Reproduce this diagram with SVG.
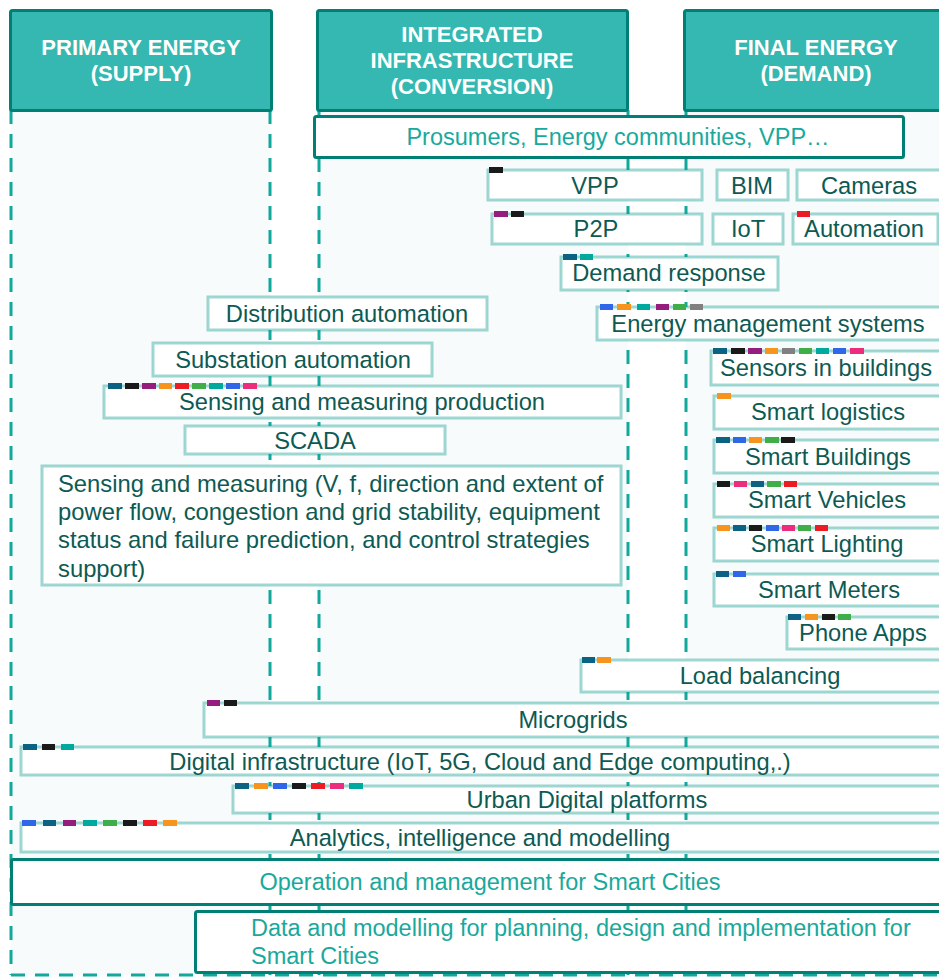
<svg xmlns="http://www.w3.org/2000/svg" width="939" height="978" viewBox="0 0 939 978">
<style>
text{font-family:"Liberation Sans",Arial,sans-serif}
.col{fill:#f7fbfb;stroke:none}
.dash{stroke:#13a89e;stroke-width:3;stroke-dasharray:14 10;fill:none}
.hdr{fill:#35b8b1;stroke:#007f74;stroke-width:3}
.ht{fill:#fff;font-weight:bold;font-size:22px;text-anchor:middle}
.big{fill:#fff;stroke:#007f74;stroke-width:3}
.bt{fill:#19a99c;font-size:23.5px}
.n{fill:#fff;stroke:#0f9d90;stroke-opacity:0.4;stroke-width:3}
.t{fill:#0d5a53;font-size:23.7px;text-anchor:middle}
.tl{fill:#0d5a53;font-size:23.8px}
.k{stroke:none}
.db{fill:#0b6283}.bk{fill:#1a1a1a}.pu{fill:#951d7e}.or{fill:#f7941d}.rd{fill:#ed1c24}
.gr{fill:#3fae49}.te{fill:#00a99d}.bl{fill:#2f67e8}.pk{fill:#ec2c7c}.gy{fill:#808080}
</style>
<g id="columns">
<rect class="col" x="11" y="110" width="259" height="865"/>
<rect class="col" x="319" y="110" width="309" height="865"/>
<rect class="col" x="686" y="110" width="260" height="865"/>
<line class="dash" x1="11" y1="110" x2="11" y2="975"/>
<line class="dash" x1="270" y1="110" x2="270" y2="975"/>
<line class="dash" x1="319" y1="110" x2="319" y2="975"/>
<line class="dash" x1="628" y1="110" x2="628" y2="975"/>
<line class="dash" x1="686" y1="110" x2="686" y2="975"/>
<line class="dash" x1="11" y1="975" x2="939" y2="975"/>
</g>
<g id="header-primary">
<rect class="hdr" x="10.5" y="10.5" width="261" height="100" rx="2"/>
<text class="ht" x="141" y="55">PRIMARY ENERGY</text>
<text class="ht" x="141" y="81">(SUPPLY)</text>
</g>
<g id="header-integrated">
<rect class="hdr" x="317.5" y="10.5" width="310" height="100" rx="2"/>
<text class="ht" x="472" y="42">INTEGRATED</text>
<text class="ht" x="472" y="68">INFRASTRUCTURE</text>
<text class="ht" x="472" y="94">(CONVERSION)</text>
</g>
<g id="header-final">
<rect class="hdr" x="684.5" y="10.5" width="270" height="100" rx="2"/>
<text class="ht" x="816" y="55">FINAL ENERGY</text>
<text class="ht" x="816" y="81">(DEMAND)</text>
</g>
<g id="prosumers">
<rect class="big" x="314.5" y="116.5" width="589" height="41" rx="2"/>
<text class="bt" x="618" y="145" text-anchor="middle">Prosumers, Energy communities, VPP…</text>
</g>
<g id="vpp">
<rect class="n" x="488" y="170" width="214" height="30"/>
<rect class="k bk" x="489" y="167" width="14" height="6"/>
<text class="t" x="595" y="194">VPP</text>
</g>
<g id="bim">
<rect class="n" x="717" y="170" width="71" height="30"/>
<text class="t" x="752" y="194">BIM</text>
</g>
<g id="cameras">
<rect class="n" x="797" y="170" width="150" height="30"/>
<text class="t" x="869" y="194">Cameras</text>
</g>
<g id="p2p">
<rect class="n" x="492" y="214" width="210" height="30"/>
<rect class="k pu" x="494" y="211" width="14" height="6"/>
<rect class="k bk" x="511" y="211" width="13" height="6"/>
<text class="t" x="596" y="237">P2P</text>
</g>
<g id="iot">
<rect class="n" x="713" y="214" width="70" height="30"/>
<text class="t" x="748" y="237">IoT</text>
</g>
<g id="automation">
<rect class="n" x="793" y="214" width="145" height="30"/>
<rect class="k rd" x="797" y="211" width="13" height="6"/>
<text class="t" x="864" y="237">Automation</text>
</g>
<g id="demand-response">
<rect class="n" x="561" y="257" width="217" height="33"/>
<rect class="k db" x="563" y="254" width="14" height="6"/>
<rect class="k te" x="580" y="254" width="13" height="6"/>
<text class="t" x="669" y="281">Demand response</text>
</g>
<g id="distribution-automation">
<rect class="n" x="208" y="297" width="279" height="33"/>
<text class="t" x="347" y="322">Distribution automation</text>
</g>
<g id="energy-management">
<rect class="n" x="597" y="307" width="350" height="33"/>
<rect class="k bl" x="600" y="304" width="13" height="6"/>
<rect class="k or" x="617" y="304" width="14" height="6"/>
<rect class="k te" x="637" y="304" width="13" height="6"/>
<rect class="k pu" x="656" y="304" width="13" height="6"/>
<rect class="k gr" x="673" y="304" width="13" height="6"/>
<rect class="k gy" x="690" y="304" width="13" height="6"/>
<text class="t" x="768" y="332">Energy management systems</text>
</g>
<g id="substation-automation">
<rect class="n" x="153" y="343" width="279" height="33"/>
<text class="t" x="293" y="368">Substation automation</text>
</g>
<g id="sensors-buildings">
<rect class="n" x="711" y="351" width="236" height="34"/>
<rect class="k db" x="713" y="348" width="14" height="6"/>
<rect class="k bk" x="731" y="348" width="14" height="6"/>
<rect class="k pu" x="748" y="348" width="14" height="6"/>
<rect class="k or" x="765" y="348" width="13" height="6"/>
<rect class="k gy" x="782" y="348" width="13" height="6"/>
<rect class="k gr" x="799" y="348" width="13" height="6"/>
<rect class="k te" x="816" y="348" width="13" height="6"/>
<rect class="k bl" x="833" y="348" width="13" height="6"/>
<rect class="k pk" x="850" y="348" width="14" height="6"/>
<text class="t" x="826" y="376">Sensors in buildings</text>
</g>
<g id="sensing-production">
<rect class="n" x="104" y="386" width="517" height="32"/>
<rect class="k db" x="108" y="383" width="14" height="6"/>
<rect class="k bk" x="125" y="383" width="14" height="6"/>
<rect class="k pu" x="142" y="383" width="14" height="6"/>
<rect class="k or" x="159" y="383" width="13" height="6"/>
<rect class="k rd" x="175" y="383" width="14" height="6"/>
<rect class="k gr" x="192" y="383" width="14" height="6"/>
<rect class="k te" x="209" y="383" width="14" height="6"/>
<rect class="k bl" x="226" y="383" width="14" height="6"/>
<rect class="k pk" x="243" y="383" width="14" height="6"/>
<text class="t" x="362" y="410">Sensing and measuring production</text>
</g>
<g id="smart-logistics">
<rect class="n" x="714" y="396" width="232" height="33"/>
<rect class="k or" x="717" y="393" width="14" height="6"/>
<text class="t" x="828" y="420">Smart logistics</text>
</g>
<g id="scada">
<rect class="n" x="185" y="426" width="260" height="28"/>
<text class="t" x="315" y="449">SCADA</text>
</g>
<g id="smart-buildings">
<rect class="n" x="714" y="440" width="232" height="33"/>
<rect class="k db" x="716" y="437" width="14" height="6"/>
<rect class="k bl" x="733" y="437" width="13" height="6"/>
<rect class="k or" x="749" y="437" width="13" height="6"/>
<rect class="k gr" x="765" y="437" width="14" height="6"/>
<rect class="k bk" x="781" y="437" width="14" height="6"/>
<text class="t" x="828" y="465">Smart Buildings</text>
</g>
<g id="sensing-measuring">
<rect class="n" x="42" y="466" width="579" height="119"/>
<text class="tl" x="58" y="492">Sensing and measuring (V, f, direction and extent of</text>
<text class="tl" x="58" y="520">power flow, congestion and grid stability, equipment</text>
<text class="tl" x="58" y="548">status and failure prediction, and control strategies</text>
<text class="tl" x="58" y="577">support)</text>
</g>
<g id="smart-vehicles">
<rect class="n" x="714" y="484" width="232" height="33"/>
<rect class="k bk" x="717" y="481" width="13" height="6"/>
<rect class="k pk" x="734" y="481" width="13" height="6"/>
<rect class="k db" x="751" y="481" width="13" height="6"/>
<rect class="k gr" x="767" y="481" width="14" height="6"/>
<rect class="k rd" x="784" y="481" width="13" height="6"/>
<text class="t" x="827" y="508">Smart Vehicles</text>
</g>
<g id="smart-lighting">
<rect class="n" x="714" y="528" width="232" height="33"/>
<rect class="k or" x="717" y="525" width="13" height="6"/>
<rect class="k db" x="733" y="525" width="13" height="6"/>
<rect class="k bk" x="749" y="525" width="13" height="6"/>
<rect class="k bl" x="766" y="525" width="13" height="6"/>
<rect class="k pk" x="782" y="525" width="13" height="6"/>
<rect class="k gr" x="798" y="525" width="13" height="6"/>
<rect class="k rd" x="815" y="525" width="13" height="6"/>
<text class="t" x="827" y="552">Smart Lighting</text>
</g>
<g id="smart-meters">
<rect class="n" x="714" y="574" width="232" height="32"/>
<rect class="k db" x="716" y="571" width="13" height="6"/>
<rect class="k bl" x="733" y="571" width="13" height="6"/>
<text class="t" x="829" y="598">Smart Meters</text>
</g>
<g id="phone-apps">
<rect class="n" x="787" y="617" width="160" height="32"/>
<rect class="k db" x="788" y="614" width="13" height="6"/>
<rect class="k or" x="805" y="614" width="13" height="6"/>
<rect class="k bk" x="822" y="614" width="13" height="6"/>
<rect class="k gr" x="838" y="614" width="13" height="6"/>
<text class="t" x="863" y="641">Phone Apps</text>
</g>
<g id="load-balancing">
<rect class="n" x="581" y="660" width="366" height="32"/>
<rect class="k db" x="582" y="657" width="13" height="6"/>
<rect class="k or" x="597" y="657" width="14" height="6"/>
<text class="t" x="760" y="684">Load balancing</text>
</g>
<g id="microgrids">
<rect class="n" x="204" y="703" width="743" height="34"/>
<rect class="k pu" x="207" y="700" width="13" height="6"/>
<rect class="k bk" x="224" y="700" width="13" height="6"/>
<text class="t" x="573" y="728">Microgrids</text>
</g>
<g id="digital-infrastructure">
<rect class="n" x="21" y="747" width="926" height="28"/>
<rect class="k db" x="23" y="744" width="14" height="6"/>
<rect class="k bk" x="42" y="744" width="13" height="6"/>
<rect class="k te" x="61" y="744" width="13" height="6"/>
<text class="t" x="480" y="770">Digital infrastructure (IoT, 5G, Cloud and Edge computing,.)</text>
</g>
<g id="urban-platforms">
<rect class="n" x="233" y="786" width="714" height="27"/>
<rect class="k db" x="235" y="783" width="14" height="6"/>
<rect class="k or" x="254" y="783" width="14" height="6"/>
<rect class="k bl" x="273" y="783" width="14" height="6"/>
<rect class="k bk" x="292" y="783" width="14" height="6"/>
<rect class="k rd" x="311" y="783" width="14" height="6"/>
<rect class="k pk" x="330" y="783" width="14" height="6"/>
<rect class="k te" x="349" y="783" width="14" height="6"/>
<text class="t" x="587" y="808">Urban Digital platforms</text>
</g>
<g id="analytics">
<rect class="n" x="21" y="823" width="926" height="29"/>
<rect class="k bl" x="22" y="820" width="14" height="6"/>
<rect class="k db" x="43" y="820" width="13" height="6"/>
<rect class="k pu" x="63" y="820" width="13" height="6"/>
<rect class="k te" x="83" y="820" width="14" height="6"/>
<rect class="k gr" x="103" y="820" width="14" height="6"/>
<rect class="k bk" x="123" y="820" width="14" height="6"/>
<rect class="k rd" x="143" y="820" width="14" height="6"/>
<rect class="k or" x="163" y="820" width="14" height="6"/>
<text class="t" x="480" y="846">Analytics, intelligence and modelling</text>
</g>
<g id="operation">
<rect class="big" x="11.5" y="859.5" width="940" height="45" rx="2"/>
<text class="bt" x="490" y="890" text-anchor="middle">Operation and management for Smart Cities</text>
</g>
<g id="data-modelling">
<rect class="big" x="195.5" y="911.5" width="760" height="61" rx="2"/>
<text class="bt" x="251" y="936">Data and modelling for planning, design and implementation for</text>
<text class="bt" x="251" y="964">Smart Cities</text>
</g>
<g id="connectors"/>
</svg>
